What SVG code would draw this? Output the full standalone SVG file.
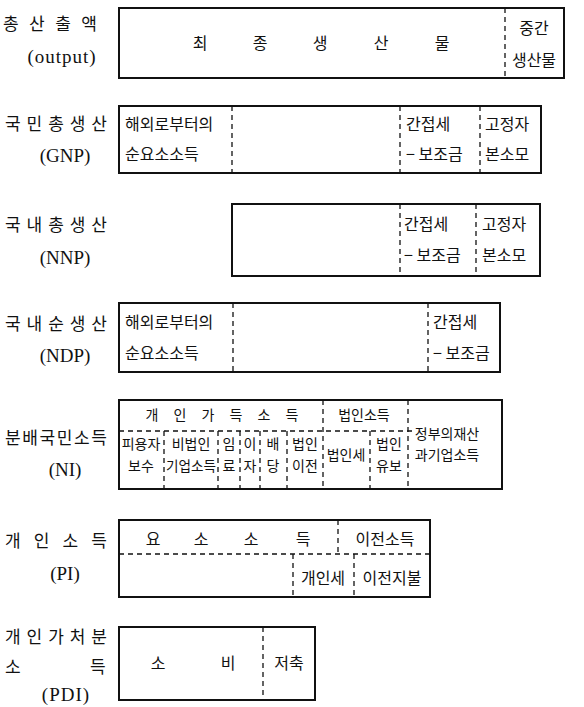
<svg xmlns="http://www.w3.org/2000/svg" width="584" height="707" viewBox="0 0 584 707">
<style>
.box{fill:none;stroke:#111;stroke-width:2}
.dash{fill:none;stroke:#111;stroke-width:1.3;stroke-dasharray:5 4}
.k{font-family:"Noto Sans CJK KR","Noto Sans",sans-serif;font-size:16px;fill:#111}
.ks{font-family:"Noto Sans CJK KR","Noto Sans",sans-serif;font-size:14px;fill:#111}
.lab{font-family:"Noto Sans CJK KR","Noto Sans",sans-serif;font-size:17px;fill:#111}
.lat{font-family:"Liberation Serif","Times New Roman",serif;font-size:19px;fill:#111;text-anchor:middle}
.m{text-anchor:middle}
</style>
<rect width="584" height="707" fill="#fff"/>

<g id="output">
<text class="lab" x="3" y="30" textLength="94" lengthAdjust="spacing">총 산 출 액</text>
<text class="lat" x="62" y="63" letter-spacing="1">(output)</text>
<rect class="box" x="119" y="8" width="445" height="70"/>
<text class="k m" x="200" y="49">최</text>
<text class="k m" x="260" y="49">종</text>
<text class="k m" x="320" y="49">생</text>
<text class="k m" x="381" y="49">산</text>
<text class="k m" x="442" y="49">물</text>
<text class="k m" x="534" y="34">중간</text>
<text class="k m" x="534" y="66">생산물</text>
</g>

<g id="gnp">
<text class="lab" x="5" y="130" textLength="102" lengthAdjust="spacing">국 민 총 생 산</text>
<text class="lat" x="65" y="162">(GNP)</text>
<rect class="box" x="119" y="106" width="422" height="67"/>
<text class="k" x="125" y="130">해외로부터의</text>
<text class="k" x="125" y="160">순요소소득</text>
<text class="k" x="406" y="130">간접세</text>
<text class="k" x="406" y="160">− 보조금</text>
<text class="k" x="485" y="130">고정자</text>
<text class="k" x="485" y="160">본소모</text>
</g>

<g id="nnp">
<text class="lab" x="5" y="231" textLength="102" lengthAdjust="spacing">국 내 총 생 산</text>
<text class="lat" x="65" y="264">(NNP)</text>
<rect class="box" x="232" y="204" width="308" height="72"/>
<text class="k" x="404" y="230">간접세</text>
<text class="k" x="404" y="261">− 보조금</text>
<text class="k" x="482" y="230">고정자</text>
<text class="k" x="482" y="261">본소모</text>
</g>

<g id="ndp">
<text class="lab" x="5" y="330" textLength="102" lengthAdjust="spacing">국 내 순 생 산</text>
<text class="lat" x="65" y="362">(NDP)</text>
<rect class="box" x="119" y="303" width="381" height="69"/>
<text class="k" x="125" y="328">해외로부터의</text>
<text class="k" x="125" y="359">순요소소득</text>
<text class="k" x="433" y="328">간접세</text>
<text class="k" x="433" y="359">− 보조금</text>
</g>

<g id="ni">
<text class="lab" x="5" y="444" textLength="102" lengthAdjust="spacing">분배국민소득</text>
<text class="lat" x="65" y="476">(NI)</text>
<rect class="box" x="119" y="400" width="383" height="89"/>
<text class="ks m" x="152" y="420">개</text>
<text class="ks m" x="180" y="420">인</text>
<text class="ks m" x="208" y="420">가</text>
<text class="ks m" x="236" y="420">득</text>
<text class="ks m" x="264" y="420">소</text>
<text class="ks m" x="292" y="420">득</text>
<text class="ks m" x="364" y="420">법인소득</text>
<text class="ks m" x="447" y="439">정부의재산</text>
<text class="ks m" x="447" y="460">과기업소득</text>
<text class="ks m" x="141" y="449">피용자</text>
<text class="ks m" x="141" y="471">보수</text>
<text class="ks m" x="191" y="449">비법인</text>
<text class="ks m" x="191" y="471" textLength="50" lengthAdjust="spacingAndGlyphs">기업소득</text>
<text class="ks m" x="229" y="449">임</text>
<text class="ks m" x="229" y="471">료</text>
<text class="ks m" x="250" y="449">이</text>
<text class="ks m" x="250" y="471">자</text>
<text class="ks m" x="273" y="449">배</text>
<text class="ks m" x="273" y="471">당</text>
<text class="ks m" x="305" y="449">법인</text>
<text class="ks m" x="305" y="471">이전</text>
<text class="ks m" x="346" y="460">법인세</text>
<text class="ks m" x="389" y="449">법인</text>
<text class="ks m" x="389" y="471">유보</text>
</g>

<g id="pi">
<text class="lab" x="5" y="547" textLength="102" lengthAdjust="spacing">개 인 소 득</text>
<text class="lat" x="65" y="580">(PI)</text>
<rect class="box" x="119" y="520" width="311" height="77"/>
<text class="k m" x="153" y="545">요</text>
<text class="k m" x="201" y="545">소</text>
<text class="k m" x="251" y="545">소</text>
<text class="k m" x="303" y="545">득</text>
<text class="k m" x="385" y="545">이전소득</text>
<text class="k m" x="323" y="584">개인세</text>
<text class="k m" x="392" y="584">이전지불</text>
</g>

<g id="pdi">
<text class="lab" x="5" y="643" textLength="102" lengthAdjust="spacing">개 인 가 처 분</text>
<text class="lab" x="5" y="673">소</text>
<text class="lab" x="90" y="673">득</text>
<text class="lat" x="66" y="701" letter-spacing="1">(PDI)</text>
<rect class="box" x="119" y="627" width="196" height="73"/>
<text class="k m" x="158" y="669">소</text>
<text class="k m" x="228" y="669">비</text>
<text class="k m" x="289" y="669">저축</text>
</g>

<g id="connectors">
<line class="dash" x1="505" y1="8" x2="505" y2="78"/>
<line class="dash" x1="232" y1="106" x2="232" y2="173"/>
<line class="dash" x1="400" y1="106" x2="400" y2="173"/>
<line class="dash" x1="480" y1="106" x2="480" y2="173"/>
<line class="dash" x1="400" y1="204" x2="400" y2="276"/>
<line class="dash" x1="476" y1="204" x2="476" y2="276"/>
<line class="dash" x1="233" y1="303" x2="233" y2="372"/>
<line class="dash" x1="428" y1="303" x2="428" y2="372"/>
<line class="dash" x1="119" y1="431" x2="413" y2="431"/>
<line class="dash" x1="323" y1="400" x2="323" y2="489"/>
<line class="dash" x1="408" y1="400" x2="408" y2="489"/>
<line class="dash" x1="164" y1="431" x2="164" y2="489"/>
<line class="dash" x1="218" y1="431" x2="218" y2="489"/>
<line class="dash" x1="240" y1="431" x2="240" y2="489"/>
<line class="dash" x1="260" y1="431" x2="260" y2="489"/>
<line class="dash" x1="287" y1="431" x2="287" y2="489"/>
<line class="dash" x1="370" y1="431" x2="370" y2="489"/>
<line class="dash" x1="119" y1="554" x2="430" y2="554"/>
<line class="dash" x1="338" y1="520" x2="338" y2="554"/>
<line class="dash" x1="293" y1="554" x2="293" y2="597"/>
<line class="dash" x1="354" y1="554" x2="354" y2="597"/>
<line class="dash" x1="263" y1="627" x2="263" y2="700"/>
</g>
</svg>
